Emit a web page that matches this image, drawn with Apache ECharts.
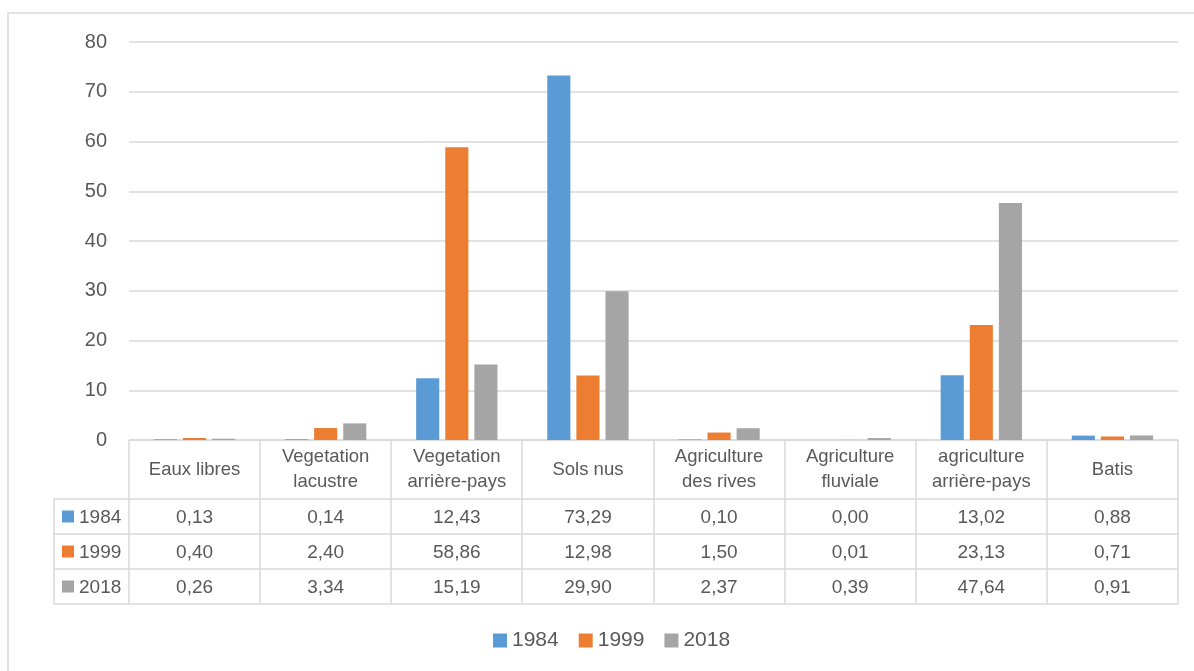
<!DOCTYPE html>
<html>
<head>
<meta charset="utf-8">
<script src="https://cdn.jsdelivr.net/npm/echarts@6/dist/echarts.min.js"></script>
<style>
  html, body { margin: 0; padding: 0; background: #fff; }
  #chart { width: 1194px; height: 671px; }
</style>
</head>
<body>
<div id="chart"></div>
<script>
var categories = ['Eaux libres', 'Vegetation\nlacustre', 'Vegetation\narrière-pays', 'Sols nus',
  'Agriculture\ndes rives', 'Agriculture\nfluviale', 'agriculture\narrière-pays', 'Batis'];
var years = ['1984', '1999', '2018'];
var v1984 = [0.13, 0.14, 12.43, 73.29, 0.10, 0.00, 13.02, 0.88];
var v1999 = [0.40, 2.40, 58.86, 12.98, 1.50, 0.01, 23.13, 0.71];
var v2018 = [0.26, 3.34, 15.19, 29.90, 2.37, 0.39, 47.64, 0.91];
var colors = ['#5B9BD5', '#ED7D31', '#A5A5A5'];

var FONT = '"Liberation Sans", Arial, sans-serif';
var TXT = '#595959';
var LINE = '#D9D9D9';

// plot area / table layout
var plotL = 129, plotR = 1178, plotT = 42, plotB = 440;
var headH = 59, rowH = 35, labL = 54;

var chart = echarts.init(document.getElementById('chart'));

function fmt(v) { return v.toFixed(2).replace('.', ','); }

function buildTable() {
  var g = [];
  var colW = (plotR - plotL) / categories.length;
  var rows = [v1984, v1999, v2018];
  var bottom = plotB + headH + rowH * rows.length;
  var ls = { stroke: LINE, lineWidth: 1.5 };
  // outer frame
  g.push({ type: 'polyline', shape: { points: [[8, 671], [8, 13], [1194, 13]] }, style: ls, silent: true });
  // vertical lines
  for (var i = 0; i <= categories.length; i++) {
    var x = Math.round(plotL + colW * i);
    g.push({ type: 'line', shape: { x1: x, y1: plotB, x2: x, y2: bottom }, style: ls, silent: true });
  }
  g.push({ type: 'line', shape: { x1: labL, y1: plotB + headH, x2: labL, y2: bottom }, style: ls, silent: true });
  // horizontal lines
  g.push({ type: 'line', shape: { x1: plotL, y1: plotB, x2: plotR, y2: plotB }, style: ls, silent: true });
  for (var r = 0; r <= rows.length; r++) {
    var y = plotB + headH + rowH * r;
    g.push({ type: 'line', shape: { x1: labL, y1: y, x2: plotR, y2: y }, style: ls, silent: true });
  }
  // header texts
  categories.forEach(function (c, i) {
    g.push({
      type: 'text', silent: true,
      style: {
        x: plotL + colW * (i + 0.5), y: plotB + headH / 2, text: c,
        textAlign: 'center', textVerticalAlign: 'middle',
        font: '18.5px ' + FONT, fill: TXT, lineHeight: 25
      }
    });
  });
  // rows
  rows.forEach(function (vals, r) {
    var cy = plotB + headH + rowH * (r + 0.5);
    g.push({ type: 'rect', silent: true, shape: { x: 62, y: cy - 6, width: 12, height: 12 }, style: { fill: colors[r] } });
    g.push({
      type: 'text', silent: true,
      style: { x: 79, y: cy + 1, text: years[r], textVerticalAlign: 'middle', font: '19px ' + FONT, fill: TXT }
    });
    vals.forEach(function (v, i) {
      g.push({
        type: 'text', silent: true,
        style: {
          x: plotL + colW * (i + 0.5), y: cy + 1, text: fmt(v),
          textAlign: 'center', textVerticalAlign: 'middle', font: '19px ' + FONT, fill: TXT
        }
      });
    });
  });
  return g;
}

var seriesData = [v1984, v1999, v2018];
var option = {
  animation: false,
  backgroundColor: '#fff',
  color: colors,
  textStyle: { fontFamily: FONT },
  grid: { left: plotL, right: 1194 - plotR, top: plotT, bottom: 671 - plotB, containLabel: false },
  legend: {
    data: years, bottom: 15, left: 488,
    icon: 'rect', itemWidth: 14, itemHeight: 14, itemGap: 20,
    textStyle: { fontSize: 21, color: TXT, fontFamily: FONT }
  },
  xAxis: {
    type: 'category', data: categories,
    axisLine: { show: false }, axisTick: { show: false }, axisLabel: { show: false }
  },
  yAxis: {
    type: 'value', min: 0, max: 80, interval: 10,
    axisLine: { show: false }, axisTick: { show: false },
    axisLabel: { fontSize: 20, color: TXT, margin: 22, fontFamily: FONT },
    splitLine: { lineStyle: { color: LINE, width: 1.5 } }
  },
  series: seriesData.map(function (d, i) {
    return {
      name: years[i], type: 'bar', data: d,
      barCategoryGap: '38%', barGap: '26%',
      itemStyle: { color: colors[i] }
    };
  }),
  graphic: buildTable()
};
chart.setOption(option);
</script>
</body>
</html>
